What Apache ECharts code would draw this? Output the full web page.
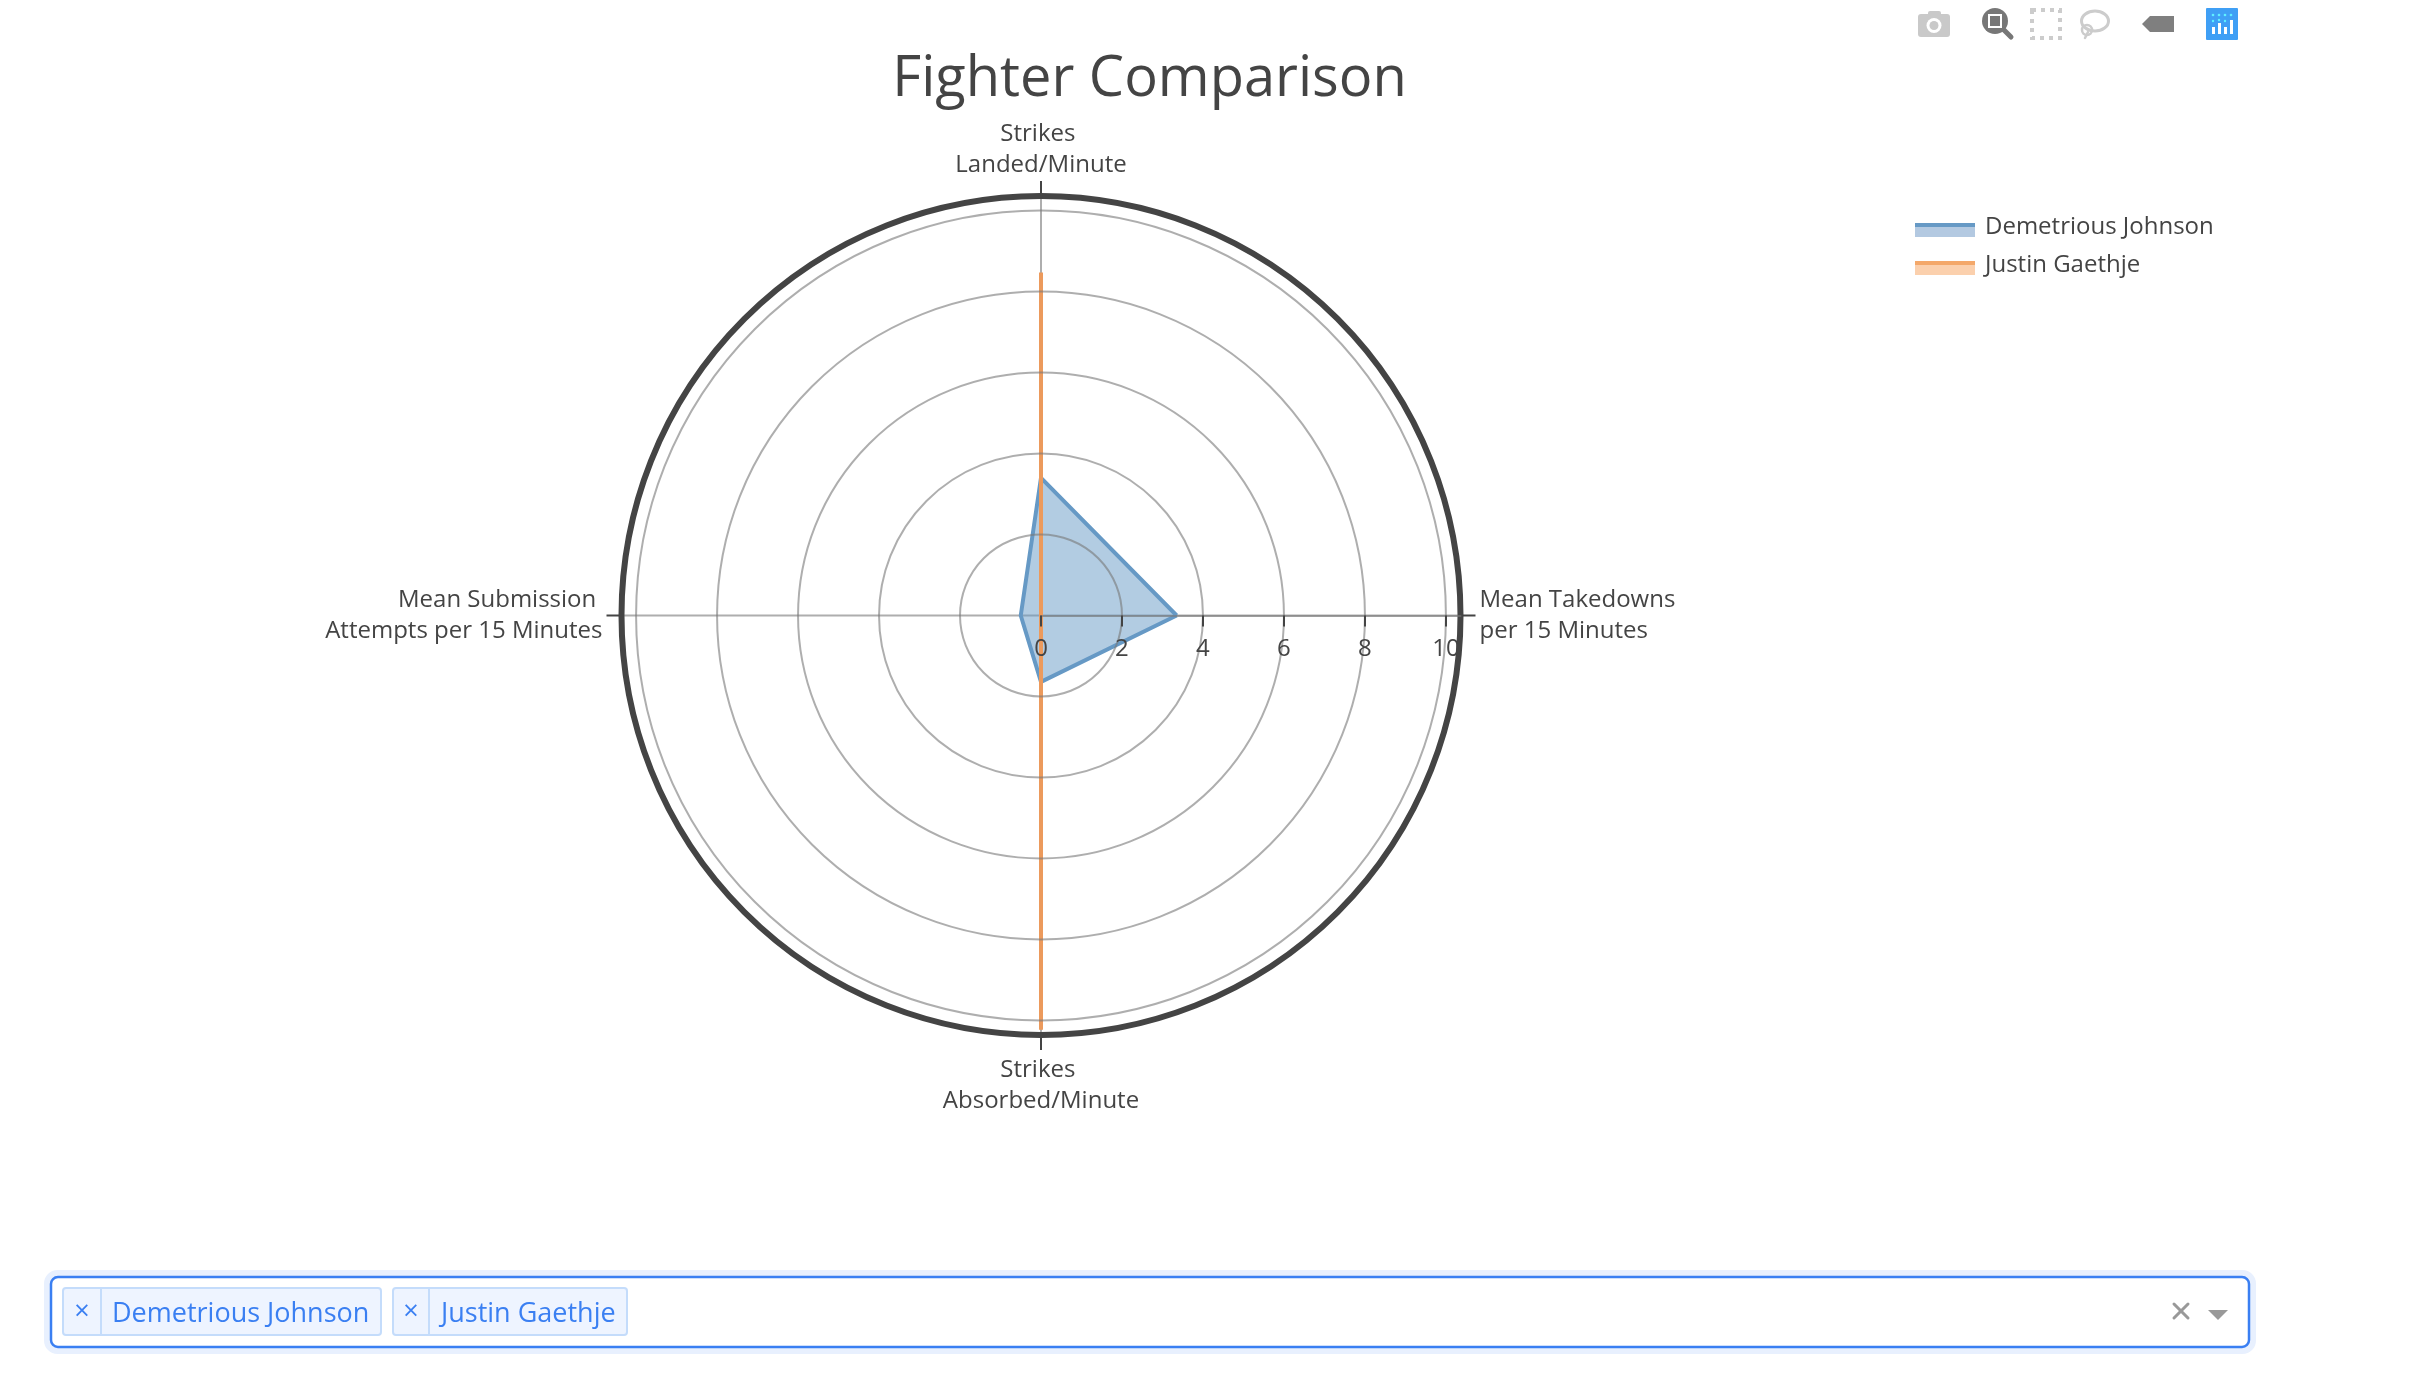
<!DOCTYPE html>
<html><head><meta charset="utf-8">
<style>html,body{margin:0;padding:0;background:#fff}#c{width:2428px;height:1374px}</style>
<script src="https://cdn.jsdelivr.net/npm/echarts@6/dist/echarts.min.js"></script>
</head><body><div id="c"></div>
<script>
const FONT = '"Open Sans"';
const categories = ['Mean Takedowns\nper 15 Minutes', 'Strikes \nAbsorbed/Minute', 'Mean Submission \nAttempts per 15 Minutes', 'Strikes \nLanded/Minute'];
const seriesNames = ['Demetrious Johnson', 'Justin Gaethje'];
const johnson = [3.35, 1.64, 0.5, 3.4];
const gaethje = [0, 10.23, 0, 8.47];
const radialTicks = [0, 2, 4, 6, 8, 10];
const radialMax = 10.36;

const closed = vals => vals.concat(vals[0]).map((v, i) => [v, i]);
const dark = '#444';
const box = (x, y, w, h, style, r) => ({type:'rect', z:100, shape:{x, y, width:w, height:h, r:r||0}, style, silent:true});
const txt = (x, y, text, size, fill, extra) => ({type:'text', z:100, x, y, style:Object.assign({text, fontFamily:FONT, fontSize:size, fill, verticalAlign:'middle', align:'left'}, extra||{}), silent:true});
const line = (x1, y1, x2, y2, stroke, w) => ({type:'line', z:100, shape:{x1, y1, x2, y2}, style:{stroke, lineWidth:w, lineCap:'round'}, silent:true});
const circ = (cx, cy, r, style) => ({type:'circle', z:100, shape:{cx, cy, r}, style, silent:true});
const poly = (points, fill) => ({type:'polygon', z:100, shape:{points}, style:{fill}, silent:true});

const toolbar = [
  box(1918, 14, 32, 23, {fill:'#c9c9c9'}, 3), box(1928, 11, 13, 6, {fill:'#c9c9c9'}, 2),
  circ(1934, 25.5, 7.5, {fill:'#fff'}), circ(1934, 25.5, 4.5, {fill:'#c9c9c9'}),
  line(2003, 29, 2011, 37, '#777', 5), circ(1995, 21, 13, {fill:'#777'}),
  box(1989, 15, 12, 12, {fill:'#777', stroke:'#fff', lineWidth:2}),
  box(2032, 10, 28, 28, {fill:'none', stroke:'#ccc', lineWidth:4, lineDash:[4, 5]}),
  {type:'ellipse', z:100, shape:{cx:2095, cy:21, rx:13.5, ry:10}, style:{fill:'none', stroke:'#ccc', lineWidth:3}, silent:true},
  circ(2087, 30, 5, {fill:'none', stroke:'#ccc', lineWidth:2.5}), line(2088, 32, 2085, 38, '#ccc', 2.5),
  poly([[2142, 24], [2150, 16], [2174, 16], [2174, 32], [2150, 32]], '#7f7f7f'),
  box(2206, 8, 32, 32, {fill:'#3f9ff5'}, 1),
  box(2212, 27, 3, 7, {fill:'#fff'}), box(2218, 23, 3, 11, {fill:'#fff'}), box(2224, 27, 3, 7, {fill:'#fff'}), box(2230, 20, 3, 14, {fill:'#fff'})
];
[2213, 2219, 2225, 2231].forEach(x => { toolbar.push(circ(x, 15, 1.3, {fill:'#5ff0ff'})); });
[2213, 2219, 2225].forEach((x, i) => { toolbar.push(circ(x, 21 - (i === 1 ? 1 : 0), 1.2, {fill:'#5ff0ff'})); });

const blueFill = '#b3c9e1', blueLine = '#6699c5', orangeFill = '#fbd0ad', orangeStripe = '#f4a86a', orangeLine = '#ec9a5c';
const legendStripes = [ box(1915, 223, 60, 4, {fill:blueLine}), box(1915, 261, 60, 4, {fill:orangeStripe}) ];

const selBlue = '#3a7ff2', tagFill = '#eef4ff', tagBorder = '#c4dcfb';
const selector = [
  box(47.5, 1273.5, 2205, 77, {fill:'#fff', stroke:'#e8f0fe', lineWidth:7}, 10),
  box(51, 1277, 2198, 70, {fill:'#fff', stroke:selBlue, lineWidth:2.5}, 7),
  box(63, 1288, 318, 47, {fill:tagFill, stroke:tagBorder, lineWidth:2}, 3), line(101, 1288, 101, 1335, tagBorder, 2),
  box(393, 1288, 234, 47, {fill:tagFill, stroke:tagBorder, lineWidth:2}, 3), line(429, 1288, 429, 1335, tagBorder, 2),
  txt(82, 1312, '×', 27, selBlue, {align:'center'}), txt(411, 1312, '×', 27, selBlue, {align:'center'}),
  txt(112, 1314, seriesNames[0], 27, selBlue), txt(441, 1314, seriesNames[1], 27, selBlue),
  line(2174, 1304, 2188, 1318, '#999', 3), line(2188, 1304, 2174, 1318, '#999', 3),
  poly([[2208, 1310], [2228, 1310], [2218, 1320]], '#999')
];

const gridStroke = 'rgba(120,120,120,0.6)';
const chart = echarts.init(document.getElementById('c'), null, {renderer:'canvas'});
chart.setOption({
  animation:false,
  backgroundColor:'#fff',
  textStyle:{fontFamily:FONT},
  title:{text:'Fighter Comparison', left:1144.5, top:47, textAlign:'center', textStyle:{fontFamily:FONT, fontSize:56, fontWeight:'normal', color:dark}},
  legend:{orient:'vertical', left:1910, top:210, itemGap:14, itemWidth:60, itemHeight:14, icon:'rect', data:seriesNames,
    formatter:name => '{n|' + name + '}',
    textStyle:{rich:{n:{fontFamily:FONT, fontSize:24, color:dark, padding:[0,0,6,5]}}}},
  polar:{center:[1041, 615.5], radius:419.5},
  angleAxis:{type:'value', min:0, max:categories.length, interval:1, startAngle:0, clockwise:true,
    axisLine:{show:true, lineStyle:{color:dark, width:6}},
    axisTick:{show:true, length:15, lineStyle:{color:dark, width:2}},
    splitLine:{show:true, lineStyle:{color:gridStroke, width:2}},
    axisLabel:{show:true, margin:15, padding:[5,4,0,4], fontFamily:FONT, fontSize:24, lineHeight:31, color:dark, formatter:v => categories[v] || ''}},
  radiusAxis:{type:'value', min:0, max:radialMax, interval:2, z:3,
    axisLine:{show:true, lineStyle:{color:gridStroke, width:2}},
    axisTick:{show:true, length:-11, customValues:radialTicks, lineStyle:{color:dark, width:2}},
    splitLine:{show:true, lineStyle:{color:gridStroke, width:2}},
    axisLabel:{show:true, margin:-34, verticalAlign:'middle', customValues:radialTicks, fontFamily:FONT, fontSize:24, color:dark}},
  series:[
    {name:seriesNames[0], type:'line', coordinateSystem:'polar', data:closed(johnson), symbol:'none', clip:false, z:2,
      itemStyle:{color:blueFill}, lineStyle:{color:blueLine, width:4, join:'round'}, areaStyle:{color:blueLine, opacity:0.5}},
    {name:seriesNames[1], type:'line', coordinateSystem:'polar', data:closed(gaethje), symbol:'none', clip:false, z:2,
      itemStyle:{color:orangeFill}, lineStyle:{color:orangeLine, width:4}, areaStyle:{color:orangeLine, opacity:0.5}}
  ],
  graphic:{elements:[...toolbar, ...legendStripes, ...selector]}
});
</script></body></html>
